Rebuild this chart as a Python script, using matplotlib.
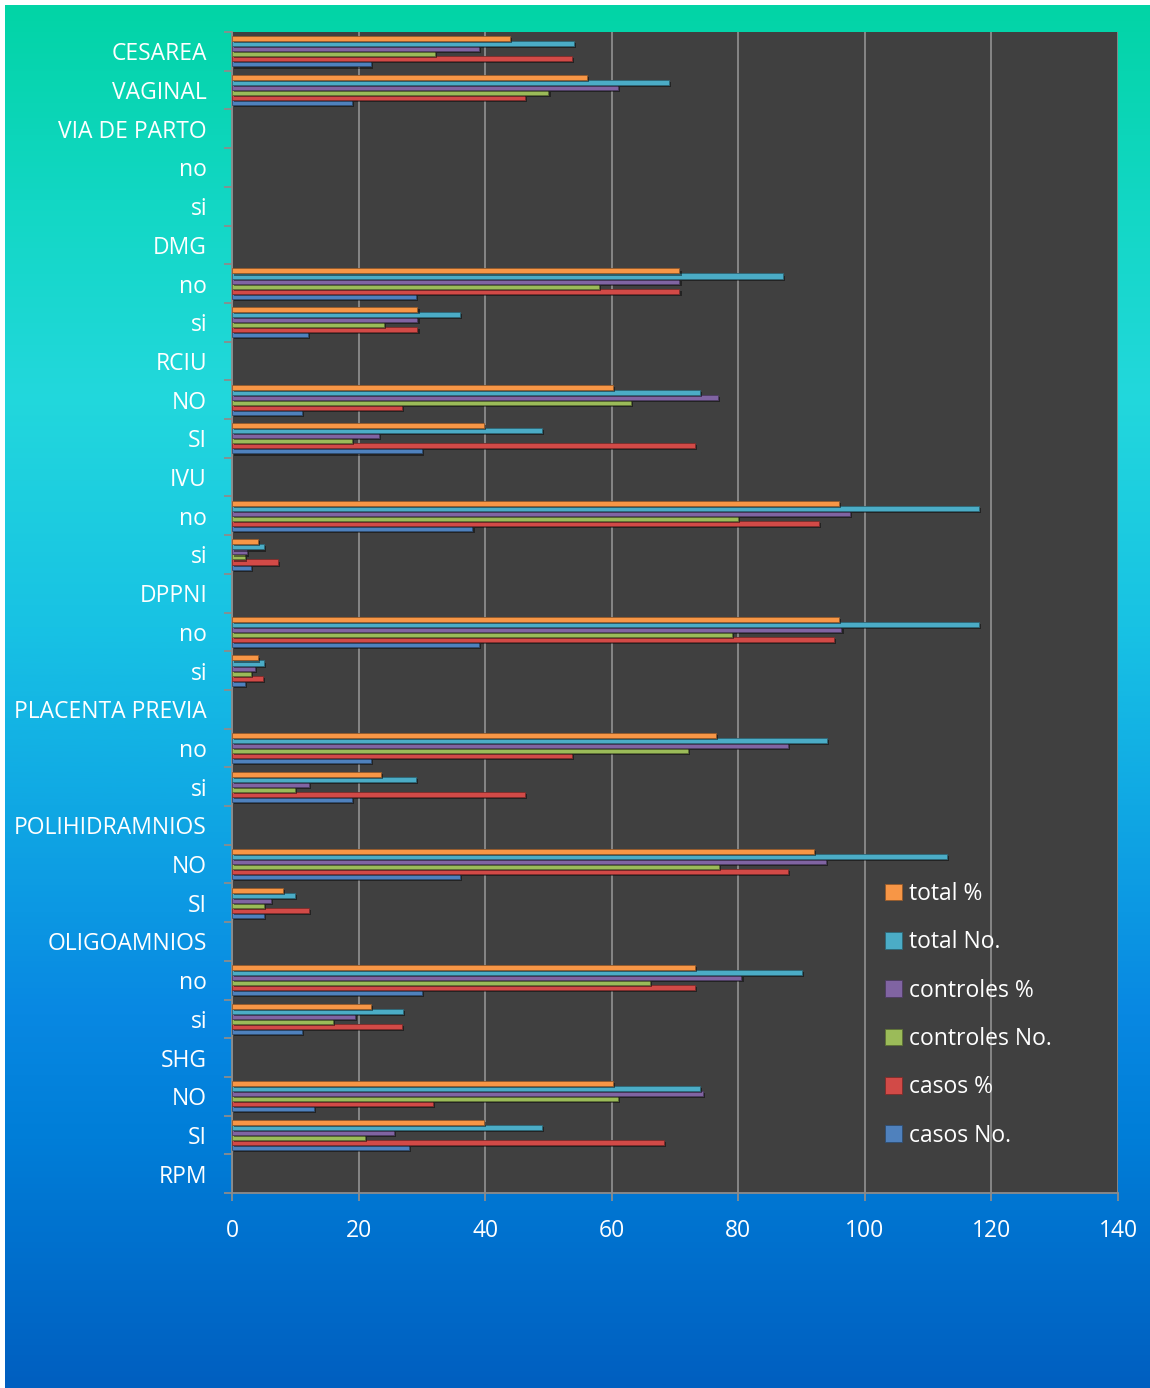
import numpy as np
import matplotlib.pyplot as plt
import matplotlib.patheffects as pe
from matplotlib.colors import LinearSegmentedColormap, to_rgb

plt.rcParams['font.family'] = ['Open Sans', 'DejaVu Sans']

# categories, bottom to top as drawn on the y axis
categorias = [
    "RPM", "SI", "NO", "SHG", "si", "no", "OLIGOAMNIOS", "SI", "NO",
    "POLIHIDRAMNIOS", "si", "no", "PLACENTA PREVIA", "si", "no", "DPPNI",
    "si", "no", "IVU", "SI", "NO", "RCIU", "si", "no", "DMG", "si", "no",
    "VIA DE PARTO", "VAGINAL", "CESAREA",
]

# header rows carry no values (nan)
nan = np.nan
casos_no = [nan, 28, 13, nan, 11, 30, nan, 5, 36, nan, 19, 22, nan, 2, 39, nan,
            3, 38, nan, 30, 11, nan, 12, 29, nan, nan, nan, nan, 19, 22]
casos_pct = [nan, 68.3, 31.7, nan, 26.8, 73.2, nan, 12.2, 87.8, nan, 46.3, 53.7,
             nan, 4.9, 95.1, nan, 7.3, 92.7, nan, 73.2, 26.8, nan, 29.3, 70.7,
             nan, nan, nan, nan, 46.3, 53.7]
controles_no = [nan, 21, 61, nan, 16, 66, nan, 5, 77, nan, 10, 72, nan, 3, 79, nan,
                2, 80, nan, 19, 63, nan, 24, 58, nan, nan, nan, nan, 50, 32]
controles_pct = [nan, 25.6, 74.4, nan, 19.5, 80.5, nan, 6.1, 93.9, nan, 12.2, 87.8,
                 nan, 3.7, 96.3, nan, 2.4, 97.6, nan, 23.2, 76.8, nan, 29.3, 70.7,
                 nan, nan, nan, nan, 61.0, 39.0]
total_no = [nan, 49, 74, nan, 27, 90, nan, 10, 113, nan, 29, 94, nan, 5, 118, nan,
            5, 118, nan, 49, 74, nan, 36, 87, nan, nan, nan, nan, 69, 54]
total_pct = [nan, 39.8, 60.2, nan, 22.0, 73.2, nan, 8.1, 91.9, nan, 23.6, 76.4,
             nan, 4.1, 95.9, nan, 4.1, 95.9, nan, 39.8, 60.2, nan, 29.3, 70.7,
             nan, nan, nan, nan, 56.1, 43.9]

series = [
    ("casos No.", casos_no, "#4F81BD"),
    ("casos %", casos_pct, "#D24A47"),
    ("controles No.", controles_no, "#9BBB59"),
    ("controles %", controles_pct, "#8064A2"),
    ("total No.", total_no, "#4BACC6"),
    ("total %", total_pct, "#F79646"),
]

fig = plt.figure(figsize=(11.5, 13.88), dpi=100, facecolor="white")

# gradient backdrop behind the chart
bg = fig.add_axes([5 / 1150, 0, 1 - 5 / 1150, 1 - 5 / 1388])
bg.axis("off")
grad = LinearSegmentedColormap.from_list("fondo", [
    (0.00, "#02D4A6"),
    (0.14, "#12D7C4"),
    (0.28, "#22D8DC"),
    (0.45, "#18C2E4"),
    (0.58, "#10A8E4"),
    (0.73, "#0888E2"),
    (0.82, "#007ED8"),
    (1.00, "#005FC0"),
])
bg.imshow(np.linspace(0, 1, 512).reshape(-1, 1), aspect="auto", cmap=grad,
          extent=[0, 1, 0, 1])

ax = fig.add_axes([232 / 1150, 1 - 1193 / 1388, 886 / 1150, 1161 / 1388])
ax.set_facecolor("#404040")

y = np.arange(len(categorias))
h = 0.13
for i, (nombre, valores, color) in enumerate(series):
    borde = tuple(c * 0.6 for c in to_rgb(color))
    bars = ax.barh(y + (i - 2.5) * h, valores, height=h, color=color,
                   edgecolor=borde, linewidth=0.6, label=nombre, zorder=3)
    for b in bars:
        b.set_path_effects([
            pe.SimplePatchShadow(offset=(1.5, -1.5), shadow_rgbFace="black",
                                 alpha=0.45),
            pe.Normal(),
        ])

ax.set_xlim(0, 140)
ax.set_xticks(range(0, 141, 20))
ax.set_ylim(-0.5, len(categorias) - 0.5)
ax.set_yticks(y)
ax.set_yticklabels(categorias)
ax.set_yticks(np.arange(-0.5, len(categorias)), minor=True)

ax.grid(axis="x", color="#8C8C8C", linewidth=1.3, zorder=1)
ax.set_axisbelow(True)
for lado in ("top", "right"):
    ax.spines[lado].set_visible(False)
for lado in ("left", "bottom"):
    ax.spines[lado].set_color("#8C8C8C")
    ax.spines[lado].set_linewidth(1.3)

ax.tick_params(axis="y", which="major", length=0, pad=18, labelsize=16.5,
               labelcolor="white")
ax.tick_params(axis="y", which="minor", length=6, width=1.3, color="#8C8C8C")
ax.tick_params(axis="x", length=6, width=1.3, color="#8C8C8C", pad=13,
               labelsize=16.5, labelcolor="white")

handles, labels = ax.get_legend_handles_labels()
leg = ax.legend(handles[::-1], labels[::-1], loc="center left",
                bbox_to_anchor=(0.724, 0.1535), frameon=False, fontsize=16.5,
                labelcolor="white", handlelength=0.75, handleheight=0.75,
                handletextpad=0.3, labelspacing=1.06, borderpad=0)
for hnd in leg.legend_handles:
    hnd.set_path_effects([])

fig.savefig("out.png", dpi=100, facecolor="white")
